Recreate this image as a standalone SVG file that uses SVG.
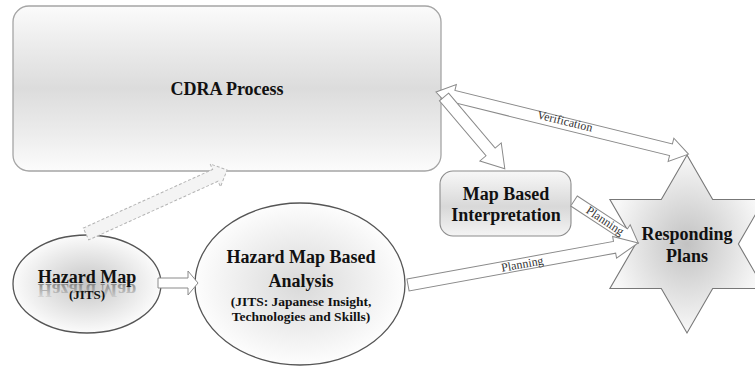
<svg xmlns="http://www.w3.org/2000/svg" width="755" height="367" viewBox="0 0 755 367">
<defs>
<linearGradient id="boxGrad" x1="0" y1="0" x2="0" y2="1">
<stop offset="0" stop-color="#fbfbfb"/>
<stop offset="0.2" stop-color="#eeeeee"/>
<stop offset="0.5" stop-color="#dcdcdc"/>
<stop offset="0.8" stop-color="#eeeeee"/>
<stop offset="1" stop-color="#fcfcfc"/>
</linearGradient>
<linearGradient id="mapGrad" x1="0" y1="0" x2="0" y2="1">
<stop offset="0" stop-color="#f8f8f8"/>
<stop offset="0.55" stop-color="#d8d8d8"/>
<stop offset="1" stop-color="#f4f4f4"/>
</linearGradient>
<radialGradient id="hzGrad" cx="0.5" cy="0.5" r="0.5">
<stop offset="0" stop-color="#c6c6c6"/>
<stop offset="1" stop-color="#fbfbfb"/>
</radialGradient>
<radialGradient id="anGrad" cx="0.5" cy="0.5" r="0.5">
<stop offset="0" stop-color="#d9d9d9"/>
<stop offset="1" stop-color="#fdfdfd"/>
</radialGradient>
<radialGradient id="starGrad" cx="0.5" cy="0.5" r="0.5">
<stop offset="0" stop-color="#c2c2c2"/>
<stop offset="1" stop-color="#f8f8f8"/>
</radialGradient>
<linearGradient id="reflGrad" gradientUnits="userSpaceOnUse" x1="0" y1="283" x2="0" y2="268">
<stop offset="0" stop-color="#7a7a7a" stop-opacity="0.85"/>
<stop offset="1" stop-color="#9a9a9a" stop-opacity="0.15"/>
</linearGradient>
</defs>
<style>
.t { font-family: "Liberation Serif", "Times New Roman", serif; font-weight: bold; fill: #111; text-anchor: middle; }
.big { font-size: 18px; }
.small { font-size: 13.5px; }
.lbl { font-family: "Liberation Serif", "Times New Roman", serif; font-size: 12px; fill: #333; text-anchor: middle; }
.arrow { fill: #ffffff; stroke: #8a8a8a; stroke-width: 1; stroke-linejoin: miter; }
.dashed { fill: #f4f4f4; stroke: #b4b4b4; stroke-width: 1; stroke-dasharray: 3 2; }
</style>

<g id="cdra">
<rect x="13" y="6" width="428" height="165" rx="16" ry="16" fill="url(#boxGrad)" stroke="#a5a5a5" stroke-width="1.3"/>
<text class="t big" x="227" y="95">CDRA Process</text>
</g>

<g id="mapbased">
<rect x="440" y="171" width="131" height="65" rx="13" ry="13" fill="url(#mapGrad)" stroke="#8c8c8c" stroke-width="1.1"/>
<text class="t big" x="506" y="200">Map Based</text>
<text class="t big" x="506" y="221">Interpretation</text>
</g>

<g id="hazardmap">
<ellipse cx="87" cy="284" rx="74" ry="49" fill="url(#hzGrad)" stroke="#555" stroke-width="1.3"/>
<text class="t big" x="87" y="283" style="fill:url(#reflGrad)" transform="matrix(1,0,0,-1,0,567)">Hazard Map</text>
<text class="t big" x="87" y="283">Hazard Map</text>
<text class="t" x="87" y="299" font-size="13">(JITS)</text>
</g>

<g id="analysis">
<ellipse cx="300" cy="284" rx="105" ry="81" fill="url(#anGrad)" stroke="#555" stroke-width="1.3"/>
<text class="t big" x="301" y="263">Hazard Map Based</text>
<text class="t big" x="301" y="287">Analysis</text>
<text class="t small" x="301" y="306">(JITS: Japanese Insight,</text>
<text class="t small" x="301" y="321">Technologies and Skills)</text>
</g>

<g id="responding">
<polygon points="687,155 712.7,199.5 764.1,199.5 738.4,244 764.1,288.5 712.7,288.5 687,333 661.3,288.5 609.9,288.5 635.6,244 609.9,199.5 661.3,199.5" fill="url(#starGrad)" stroke="#777" stroke-width="1.1"/>
<text class="t big" x="687" y="240">Responding</text>
<text class="t big" x="687" y="262">Plans</text>
</g>

<g id="connectors">
<polygon class="dashed" points="0,-6.5 142,-6.5 142,-12.5 155,0 142,12.5 142,6.5 0,6.5" transform="translate(86,234) rotate(-24.4)"/>
<polygon class="arrow" points="0,-5 30,-5 30,-12 40,0 30,12 30,5 0,5" transform="translate(158,283)"/>
<polygon class="arrow" points="0,0 18,-12 18,-6 242,-6 242,-12 260,0 242,12 242,6 18,6 18,12" transform="translate(436,92) rotate(13.82)"/>
<text class="lbl" transform="translate(564,125) rotate(13.82)">Verification</text>
<polygon class="arrow" points="0,-6 72,-6 72,-14 94,0 72,14 72,6 0,6" transform="translate(444,97) rotate(49.7)"/>
<polygon class="arrow" points="0,-6 60,-6 60,-11 77,0 60,11 60,6 0,6" transform="translate(574,201) rotate(33.3)"/>
<text class="lbl" transform="translate(603,224) rotate(33.3)">Planning</text>
<polygon class="arrow" points="0,-6 210,-6 210,-11 234,0 210,11 210,6 0,6" transform="translate(408,285) rotate(-10.35)"/>
<text class="lbl" transform="translate(523,268) rotate(-10.35)">Planning</text>
</g>
</svg>
